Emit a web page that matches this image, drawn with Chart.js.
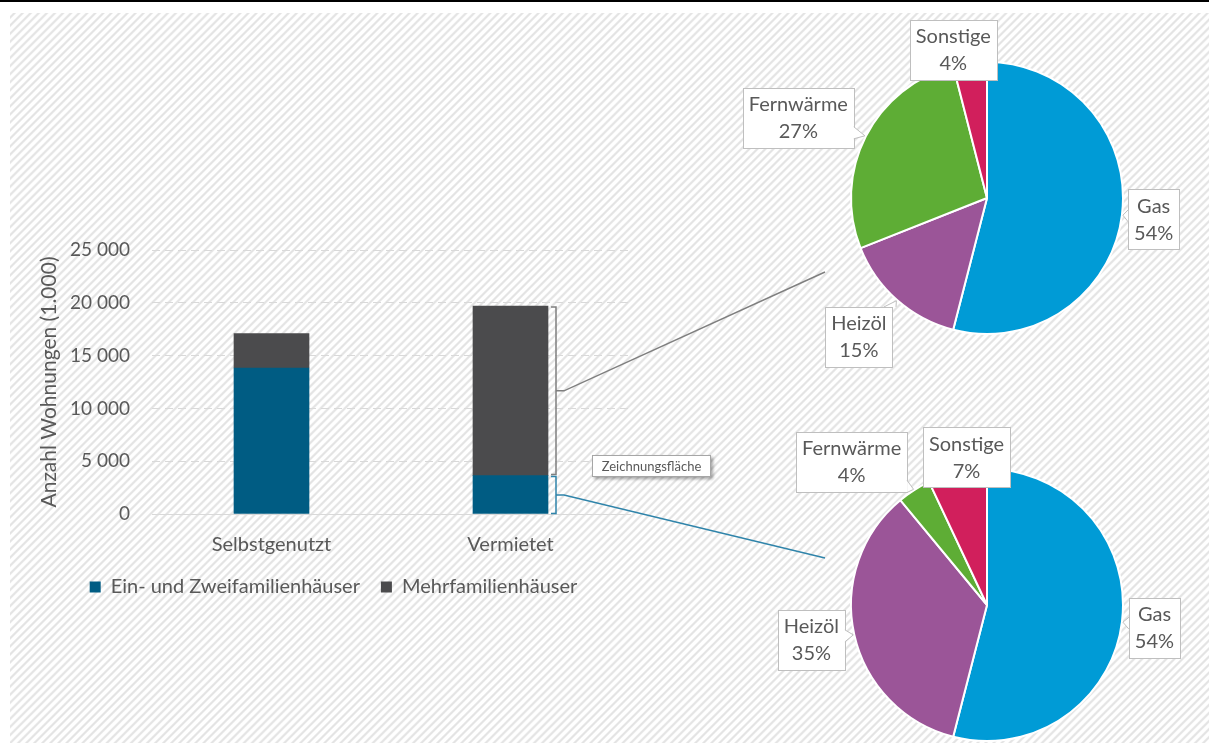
<!DOCTYPE html>
<html>
<head>
<meta charset="utf-8">
<script src="https://cdn.jsdelivr.net/npm/chart.js@4.4.0/dist/chart.umd.min.js"></script>
<style>
body{margin:0;width:1209px;height:743px;overflow:hidden;background:#fff;position:relative;font-family:Lato,sans-serif}
#linie{position:absolute;left:0;top:0;width:1209px;height:2px;background:#000}
#muster{position:absolute;left:10px;top:13px;right:0;bottom:0;
  background:repeating-linear-gradient(135deg,#fff 0px,#fff 1.6px,#e4e4e4 2.8px,#e4e4e4 3.8px,#fff 5px,#fff 5.7px)}
canvas{position:absolute;left:0;top:0}
#hinweis{position:absolute;left:592px;top:455px;width:117px;height:20px;background:#fff;border:1px solid #a6a6a6;
  box-shadow:2px 2px 3px rgba(0,0,0,0.35);font:13px Lato,sans-serif;color:#595959;text-align:center;line-height:20px}
</style>
</head>
<body>
<div id="linie"></div>
<div id="muster"></div>
<canvas id="balken" width="1209" height="743"></canvas>
<canvas id="torte1" width="1209" height="743"></canvas>
<canvas id="torte2" width="1209" height="743"></canvas>
<div id="hinweis">Zeichnungsfläche</div>
<script>
// Werte (1.000 Wohnungen)
var kategorien = ['Selbstgenutzt', 'Vermietet'];
var einZwei = [13830, 3640];
var mehrfam = [3260, 16050];

// Energieträger in %
var energie = ['Gas', 'Heizöl', 'Fernwärme', 'Sonstige'];
var anteilMehrfam = [54, 15, 27, 4];
var anteilEinZwei = [54, 35, 4, 7];
var farbenEnergie = ['#009bd6', '#9b5598', '#5ead35', '#d11f5c'];

var grau = '#595959';
Chart.defaults.font.family = 'Lato, sans-serif';
Chart.defaults.color = grau;

function tausender(v){
  return String(v).replace(/\B(?=(\d{3})+(?!\d))/g, ' ');
}

// Klammern an der Vermietet-Säule und Linien zu den Torten
var klammern = {
  id: 'klammern',
  afterDatasetsDraw: function(chart){
    var ctx = chart.ctx;
    var unten = chart.getDatasetMeta(0).data[1];
    var oben = chart.getDatasetMeta(1).data[1];
    var x = oben.x + oben.width/2 + 8;
    function klammer(top, bottom, farbe, zx, zy){
      var mitte = (top + bottom)/2;
      ctx.strokeStyle = farbe;
      ctx.lineWidth = 1.5;
      ctx.beginPath();
      ctx.moveTo(x-5, top); ctx.lineTo(x, top); ctx.lineTo(x, bottom); ctx.lineTo(x-5, bottom);
      ctx.stroke();
      ctx.beginPath();
      ctx.moveTo(x, mitte); ctx.lineTo(x+8, mitte); ctx.lineTo(zx, zy);
      ctx.stroke();
    }
    ctx.save();
    klammer(oben.y + 1, oben.base - 1, '#7f7f7f', 825, 272);
    klammer(unten.y + 1, unten.base, '#2f84aa', 825, 558);
    ctx.restore();
  }
};

new Chart(document.getElementById('balken'), {
  type: 'bar',
  data: {
    labels: kategorien,
    datasets: [
      {label: 'Ein- und Zweifamilienhäuser', data: einZwei, backgroundColor: '#005c83', barThickness: 75},
      {label: 'Mehrfamilienhäuser', data: mehrfam, backgroundColor: '#4b4b4d', barThickness: 75}
    ]
  },
  options: {
    responsive: false,
    animation: false,
    devicePixelRatio: 1,
    layout: {padding: {left: 37, right: 579, top: 250, bottom: 136}},
    scales: {
      x: {
        stacked: true,
        grid: {display: false},
        border: {display: true, color: '#d9d9d9'},
        ticks: {font: {size: 20}, color: grau, padding: 11},
        afterFit: function(s){ s.height = 42; }
      },
      y: {
        stacked: true,
        min: 0, max: 25000,
        ticks: {stepSize: 5000, font: {size: 19}, color: grau, padding: 22, callback: tausender},
        grid: {color: '#d9d9d9', drawTicks: false},
        border: {display: false, dash: [8, 5]},
        title: {display: true, text: 'Anzahl Wohnungen (1.000)', font: {size: 21}, color: grau, padding: 0},
        afterFit: function(s){ s.width = 115; }
      }
    },
    plugins: {
      legend: {
        position: 'bottom',
        labels: {boxWidth: 11, boxHeight: 11, font: {size: 20}, color: grau, padding: 21}
      },
      tooltip: {enabled: false}
    }
  },
  plugins: [klammern]
});

// Beschriftungskästen der Torten
var etiketten = {
  id: 'etiketten',
  afterDatasetsDraw: function(chart, args, opts){
    var ctx = chart.ctx;
    var ds = chart.data.datasets[0];
    ctx.save();
    ctx.font = '20px Lato, sans-serif';
    ctx.textAlign = 'center';
    ctx.textBaseline = 'middle';
    chart.getDatasetMeta(0).data.forEach(function(arc, i){
      var lage = opts.lage[i];
      var m0 = (arc.startAngle + arc.endAngle)/2;
      var m = m0 + lage[1]*Math.PI/180;
      var d = arc.outerRadius + lage[0];
      var cx = arc.x + Math.cos(m)*d, cy = arc.y + Math.sin(m)*d;
      var t1 = chart.data.labels[i], t2 = ds.data[i] + '%';
      var w = Math.round(Math.max(ctx.measureText(t1).width, ctx.measureText(t2).width) + 12);
      var h = 60;
      var l = Math.round(cx - w/2) + 0.5, o = Math.round(cy - h/2) + 0.5;
      ctx.fillStyle = '#fff';
      ctx.strokeStyle = '#bfbfbf';
      ctx.lineWidth = 1;
      ctx.fillRect(l, o, w, h);
      ctx.strokeRect(l, o, w, h);
      // Zeiger zur Torte
      var tx = arc.x + Math.cos(m0)*(arc.outerRadius + 1), ty = arc.y + Math.sin(m0)*(arc.outerRadius + 1);
      var dx = tx - cx, dy = ty - cy;
      var sx = Math.abs(dx) > 0 ? (w/2)/Math.abs(dx) : 1e9;
      var sy = Math.abs(dy) > 0 ? (h/2)/Math.abs(dy) : 1e9;
      var s = Math.min(sx, sy);
      if (s < 0.97) {
        var bx = cx + dx*s, by = cy + dy*s;
        var b1, b2;
        if (sx < sy) { b1 = [bx, by-6]; b2 = [bx, by+6]; }
        else { b1 = [bx-6, by]; b2 = [bx+6, by]; }
        ctx.beginPath();
        ctx.moveTo(b1[0], b1[1]); ctx.lineTo(tx, ty); ctx.lineTo(b2[0], b2[1]);
        ctx.fill();
        ctx.stroke();
      }
      ctx.fillStyle = grau;
      ctx.fillText(t1, cx, cy - 13);
      ctx.fillText(t2, cx, cy + 14);
    });
    ctx.restore();
  }
};

function torte(id, werte, oben, lage){
  return new Chart(document.getElementById(id), {
    type: 'pie',
    data: {
      labels: energie,
      datasets: [{data: werte, backgroundColor: farbenEnergie, borderColor: '#fff', borderWidth: 2}]
    },
    options: {
      responsive: false,
      animation: false,
      devicePixelRatio: 1,
      layout: {padding: {left: 850, right: 85, top: oben - 2, bottom: 743 - oben - 272}},
      plugins: {legend: {display: false}, tooltip: {enabled: false}, etiketten: {lage: lage}}
    },
    plugins: [etiketten]
  });
}

torte('torte1', anteilMehrfam, 63, [[32, 0], [53, 1.3], [69, -4], [16, -5.6]]);
torte('torte2', anteilEinZwei, 470, [[33, 0.5], [43, 1.4], [61, -11], [13, 4.7]]);
</script>
</body>
</html>
